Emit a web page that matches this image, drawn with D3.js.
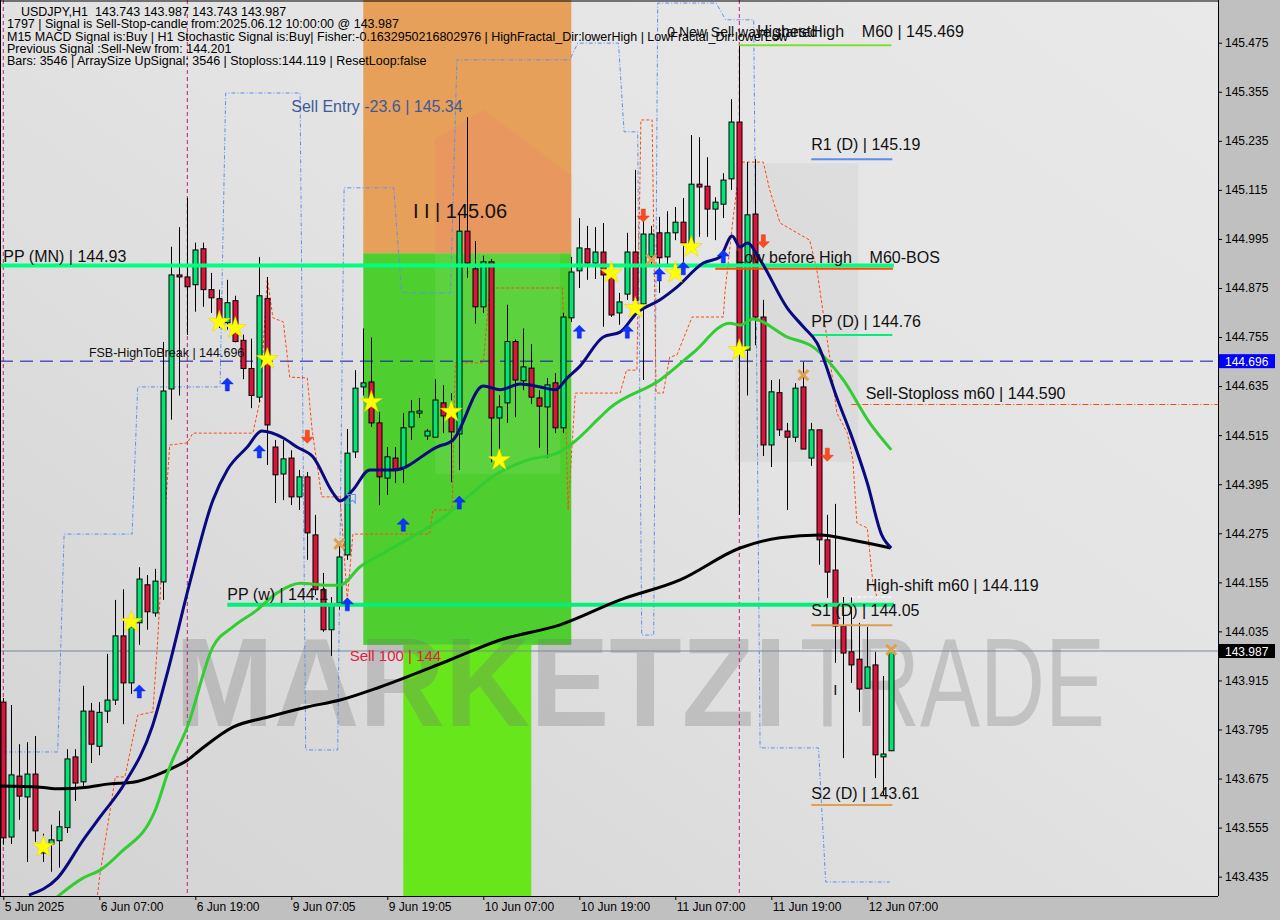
<!DOCTYPE html>
<html><head><meta charset="utf-8">
<script src="https://cdn.jsdelivr.net/npm/d3@7/dist/d3.min.js"></script>
<style>
body{margin:0;background:#c0c0c0;}
svg{display:block;font-family:"Liberation Sans",Arial,sans-serif;}
.pre{white-space:pre;}
</style></head><body>
<svg id="chart" width="1280" height="920"></svg>
<script>
// ---------------- DATA ----------------
const openP=[143.862,143.532,143.681,143.630,143.686,143.493,143.515,143.523,143.555,143.728,
143.667,143.840,143.754,143.840,143.867,144.024,143.909,144.056,144.149,144.080,
144.156,144.628,144.907,144.902,144.883,144.971,144.871,144.849,144.790,144.844,
144.747,144.678,144.608,144.849,144.486,144.420,144.459,144.364,144.413,144.271,
144.137,144.039,144.105,144.222,144.474,144.633,144.645,144.545,144.410,144.459,
144.435,144.535,144.569,144.513,144.510,144.594,144.562,144.518,145.014,144.922,
144.829,144.939,144.557,144.594,144.744,144.648,144.679,144.606,144.584,144.643,
144.533,144.802,144.917,144.971,144.936,144.963,144.907,144.814,144.860,144.963,
144.836,144.951,145.010,144.951,145.010,145.036,144.983,145.129,145.124,145.068,
145.080,145.142,145.281,144.723,145.056,144.804,144.491,144.619,144.525,144.510,
144.633,144.459,144.528,144.259,144.185,144.048,143.985,143.967,143.896,143.953,
143.728,143.743];
const highP=[143.872,143.855,143.759,143.764,143.779,143.540,143.562,143.596,143.747,143.747,
143.902,143.860,143.862,143.980,144.112,144.138,144.080,144.192,144.173,144.188,
144.743,144.976,145.024,145.095,144.986,144.986,144.912,144.871,144.895,144.856,
144.761,144.751,144.951,144.902,144.503,144.503,144.478,144.430,144.425,144.320,
144.178,144.119,144.247,144.530,144.674,144.776,144.754,144.572,144.486,144.486,
144.569,144.601,144.606,144.530,144.652,144.637,144.618,145.058,145.293,144.990,
144.954,144.946,144.613,144.834,144.749,144.776,144.738,144.625,144.655,144.667,
144.814,144.951,145.046,145.027,145.024,145.034,144.926,144.863,145.010,145.164,
145.041,145.027,145.049,145.063,145.073,145.095,145.249,145.244,145.195,145.097,
145.156,145.337,145.469,145.183,145.190,144.846,144.650,144.652,144.545,144.642,
144.694,144.545,144.528,144.320,144.347,144.119,144.119,144.056,144.046,143.985,
143.926,143.987];
const lowP=[143.513,143.515,143.574,143.471,143.520,143.471,143.447,143.457,143.542,143.620,
143.654,143.713,143.732,143.811,143.855,143.808,143.882,144.002,144.039,144.071,
144.112,144.553,144.612,144.760,144.817,144.829,144.814,144.777,144.773,144.742,
144.652,144.581,144.596,144.442,144.349,144.356,144.344,144.332,144.210,144.124,
144.034,143.975,144.088,144.210,144.459,144.612,144.535,144.344,144.369,144.398,
144.398,144.503,144.557,144.503,144.510,144.520,144.400,144.430,144.900,144.788,
144.814,144.449,144.442,144.545,144.559,144.625,144.591,144.484,144.459,144.520,
144.520,144.792,144.875,144.895,144.897,144.780,144.804,144.785,144.846,144.821,
144.650,144.931,144.863,144.931,144.992,144.939,144.973,145.000,145.000,144.992,
145.046,145.115,144.320,144.612,144.735,144.464,144.437,144.513,144.332,144.498,
144.481,144.440,144.198,144.117,143.958,143.725,143.909,143.838,143.896,143.676,
143.635,143.743];
const closeP=[143.530,143.684,143.632,143.686,143.547,143.501,143.525,143.557,143.723,143.664,
143.840,143.759,143.837,143.867,144.024,143.909,144.046,144.163,144.083,144.158,
144.623,144.907,144.902,144.878,144.968,144.871,144.851,144.797,144.839,144.744,
144.678,144.612,144.856,144.540,144.418,144.457,144.364,144.413,144.276,144.137,
144.039,144.100,144.217,144.471,144.630,144.643,144.545,144.413,144.462,144.432,
144.533,144.572,144.574,144.525,144.601,144.562,144.523,145.014,144.936,144.829,
144.939,144.557,144.584,144.744,144.650,144.682,144.608,144.586,144.638,144.533,
144.804,144.914,144.973,144.936,144.963,144.907,144.809,144.841,144.963,144.844,
145.007,145.007,144.949,145.010,145.036,144.985,145.129,145.122,145.068,145.085,
145.139,145.281,144.723,145.054,144.804,144.491,144.621,144.528,144.510,144.630,
144.481,144.528,144.259,144.180,144.048,143.982,143.953,143.894,143.948,143.733,
143.735,143.987];

const timeTickBars=[0,12,24,36,48,60,72,84,96,108];
const timeTickLabels=["5 Jun 2025","6 Jun 07:00","6 Jun 19:00","9 Jun 07:05","9 Jun 19:05","10 Jun 07:00","10 Jun 19:00","11 Jun 07:00","11 Jun 19:00","12 Jun 07:00"];
const priceTicks=[145.475,145.355,145.235,145.115,144.995,144.875,144.755,144.635,144.515,144.395,144.275,144.155,144.035,143.915,143.795,143.675,143.555,143.435];

const maFastBars=[3.2,6.8,10,12.1,15.2,18.6,20.5,23.3,26.2,28,30.5,32.3,35,36.7,38.7,41.2,42.1,43.7,45.8,48.9,54.2,56.2,60,62.1,64.6,67.1,69,70.5,72,75,77.1,79.2,82.1,84.2,87.5,89.6,91.1,92.1,93,94.6,98,100,101.7,104.3,105.9,108,109.8,111];
const maFastVals=[143.390,143.432,143.525,143.581,143.664,143.801,143.933,144.153,144.356,144.430,144.486,144.525,144.508,144.486,144.462,144.374,144.354,144.381,144.430,144.430,144.486,144.503,144.635,144.626,144.640,144.633,144.626,144.655,144.682,144.755,144.767,144.814,144.846,144.877,144.936,144.951,145.002,144.975,144.985,144.944,144.826,144.780,144.741,144.601,144.520,144.398,144.271,144.239];
const maMidBars=[6.7,10,12.1,14.6,19,20.8,23,26.2,28.7,31.7,34.2,37.1,40.5,42.1,44.6,47.1,54.6,62.1,65.5,69.2,71.2,74.6,75.8,82.1,86.2,90.8,92.1,93.7,98,101.2,105,108.3,111];
const maMidVals=[143.385,143.432,143.451,143.493,143.598,143.703,143.801,143.997,144.046,144.087,144.129,144.153,144.148,144.148,144.193,144.222,144.308,144.425,144.454,144.471,144.496,144.559,144.581,144.650,144.716,144.789,144.784,144.799,144.755,144.731,144.650,144.545,144.479];
const maSlowBars=[-0.4,4.6,7,10.5,13.3,16.2,19.2,21.2,23,24.6,28.7,33,38,42.1,47.1,55.8,62.1,69.6,77.1,84.6,92.1,97.1,102.1,105.9,110.9];
const maSlowVals=[143.657,143.654,143.650,143.654,143.662,143.666,143.684,143.701,143.720,143.745,143.801,143.825,143.850,143.867,143.899,143.965,144.014,144.051,144.112,144.161,144.239,144.264,144.271,144.259,144.239];

const blueBars=[-0.4,6.8,7.6,16.1,16.8,27.1,27.8,37.1,37.8,41.8,42.6,48.8,49.8,55.9,56.7,70.8,71.8,76.9,77.6,79.3,79.8,81.3,81.8,89.1,90.3,93.8,94.6,101.9,102.8,110.8];
const blueVals=[143.740,143.740,144.273,144.273,144.633,144.633,145.352,145.352,143.745,143.745,145.120,145.120,144.863,144.863,145.433,145.433,145.474,145.474,145.257,145.257,144.026,144.026,145.572,145.572,145.531,145.531,143.750,143.750,143.422,143.422];
const orangeBars=[11.7,12.1,13.3,14.0,15.2,16.8,18.7,19.3,20.0,20.8,23.0,23.7,31.2,32.1,33.0,33.7,35.0,35.8,38.0,38.6,39.8,42.1,43.0,43.7,53.3,53.7,56.1,56.5,60.0,60.8,69.9,70.6,71.5,77.1,77.9,79.2,79.7,81.1,81.6,82.5,83.3,84.2,86.1,90.0,90.2,91.2,92.1,95.0,95.8,97.1,99.2,100.8,101.7,103.3,104.2,105.5,106.2,106.7,108.0,108.7,109.2];
const orangeVals=[143.378,143.444,143.591,143.679,143.679,143.830,143.838,144.014,144.259,144.491,144.496,144.520,144.520,144.601,144.900,144.802,144.792,144.657,144.655,144.528,144.364,144.364,144.112,144.273,144.273,144.332,144.332,144.692,144.692,144.875,144.875,144.332,144.618,144.618,144.674,144.674,145.286,145.286,144.618,144.618,144.706,144.711,144.804,144.804,144.863,145.041,145.183,145.183,145.115,145.034,145.010,144.992,144.919,144.706,144.569,144.520,144.454,144.300,144.288,144.153,144.119];

const separatorBars=[0,23,92];
const starBars=[5,16,27,29,33,46,56,62,76,79,84,86,92];
const starVals=[143.508,144.058,144.792,144.777,144.701,144.596,144.572,144.454,144.912,144.826,144.912,144.975,144.723];
const upArrowBars=[17,28,32,43,50,57,72,78,82,85,90];
const upArrowVals=[143.904,144.655,144.491,144.117,144.312,144.366,144.784,144.784,144.924,144.939,144.968];
const downArrowBars=[38,80,95,103];
const downArrowVals=[144.510,145.051,144.988,144.466];
const crossBars=[42,81,100,111];
const crossVals=[144.249,144.944,144.662,143.990];

const zoneBars0=[45,45,50], zoneBars1=[71,71,66];
const zoneTop=[145.70,144.960,144.002], zoneBottom=[144.960,144.002,143.30];

const levelLabels=["PP (MN) | 144.93","PP (w) | 144.1","R1 (D) | 145.19","PP (D) | 144.76","S1 (D) | 144.05","S2 (D) | 143.61"];
const levelValues=[144.93,144.1,145.19,144.76,144.05,143.61];
const levelStart=[-0.45,28,101,101,101,101];
const levelEnd=[111.2,111.2,111,111,111,111];

const headerLines=["    USDJPY,H1  143.743 143.987 143.743 143.987",
"1797 | Signal is Sell-Stop-candle from:2025.06.12 10:00:00 @ 143.987",
"M15 MACD Signal is:Buy | H1 Stochastic Signal is:Buy| Fisher:-0.1632950216802976 | HighFractal_Dir:lowerHigh | LowFractal_Dir:lowerLow",
"Previous Signal :Sell-New from: 144.201",
"Bars: 3546 | ArraySize UpSignal: 3546 | Stoploss:144.119 | ResetLoop:false"];

const fsbValue=144.696, lastPrice=143.987, highestHigh=145.469, lowBeforeHigh=144.926, sellStop=144.590, highShift=144.119;
const sellEntryValue=145.34, iiValue=145.06, sell100Value=144;

// ---------------- DRAW ----------------
const PR=1218, PB=896;
const svg=d3.select("#chart");
const x=d3.scaleLinear().domain([-3.3/8,(PR-3.3)/8]).range([0,PR]);
const y=d3.scaleLinear().domain([143.3877,145.5795]).range([PB,0]);

const defs=svg.append("defs");
const g1=defs.append("linearGradient").attr("id","bg").attr("x1","0").attr("y1","1").attr("x2","1").attr("y2","0");
g1.append("stop").attr("offset","0").attr("stop-color","#d3d3d3");
g1.append("stop").attr("offset","0.55").attr("stop-color","#e3e3e3");
g1.append("stop").attr("offset","1").attr("stop-color","#e9e9e9");
defs.append("clipPath").attr("id","plot").append("rect").attr("x",0).attr("y",0).attr("width",PR).attr("height",PB);

svg.append("rect").attr("width",1280).attr("height",920).attr("fill","#c0c0c0");
svg.append("rect").attr("x",0).attr("y",0).attr("width",PR).attr("height",PB).attr("fill","url(#bg)");

const P=svg.append("g").attr("clip-path","url(#plot)");

// logo faint box
P.append("rect").attr("x",x(91.5)).attr("y",y(145.18)).attr("width",123).attr("height",y(144.45)-y(145.18)).attr("fill","rgba(0,0,0,0.04)");

// zones
const zoneColors=["#e6a05a","#4fcf2f","#68e61c"];
zoneColors.forEach((c,i)=>{
  P.append("rect").attr("x",x(zoneBars0[i])).attr("width",x(zoneBars1[i])-x(zoneBars0[i]))
   .attr("y",y(zoneTop[i])).attr("height",y(zoneBottom[i])-y(zoneTop[i])).attr("fill",c);
});
// logo tints inside zones
P.append("path").attr("d",`M${x(54)},${y(145.24)} L${x(60)},${y(145.31)} L${x(71)},${y(145.15)} L${x(71)},${y(144.96)} L${x(54)},${y(144.96)} Z`).attr("fill","rgba(240,120,110,0.22)");
P.append("rect").attr("x",x(54)).attr("width",x(69.6)-x(54)).attr("y",y(144.96)).attr("height",y(144.42)-y(144.96)).attr("fill","rgba(255,255,255,0.08)");

// watermark
P.append("text").attr("x",175).attr("y",726).attr("font-size",126).attr("font-weight","bold")
 .attr("textLength",612).attr("lengthAdjust","spacingAndGlyphs").attr("fill","rgba(110,110,110,0.28)").text("MARKETZI");
P.append("text").attr("x",800).attr("y",726).attr("font-size",126).attr("font-weight","normal")
 .attr("textLength",305).attr("lengthAdjust","spacingAndGlyphs").attr("fill","rgba(110,110,110,0.28)").text("TRADE");

// separators
separatorBars.forEach(b=>{
  P.append("line").attr("x1",x(b)).attr("x2",x(b)).attr("y1",0).attr("y2",PB)
   .attr("stroke","#c0207a").attr("stroke-width",1).attr("stroke-dasharray","4,3");
});

// current price line & FSB
P.append("line").attr("x1",0).attr("x2",PR).attr("y1",y(lastPrice)).attr("y2",y(lastPrice)).attr("stroke","#76879a").attr("stroke-width",1);
P.append("line").attr("x1",0).attr("x2",PR).attr("y1",y(fsbValue)).attr("y2",y(fsbValue)).attr("stroke","#1010b0").attr("stroke-width",1).attr("stroke-dasharray","13,7");

// dashed step lines
const ln=d3.line().x(d=>x(d[0])).y(d=>y(d[1]));
P.append("path").attr("d",ln(blueBars.map((b,i)=>[b,blueVals[i]]))).attr("fill","none")
 .attr("stroke","#5b8ff0").attr("stroke-width",1).attr("stroke-dasharray","4,2,1,2");
P.append("path").attr("d",ln(orangeBars.map((b,i)=>[b,orangeVals[i]]))).attr("fill","none")
 .attr("stroke","#ff4a10").attr("stroke-width",1).attr("stroke-dasharray","3,2");

// candles
const idx=d3.range(openP.length);
const C=P.append("g");
idx.forEach(i=>{
  const cx=Math.round(x(i))+0.5;
  C.append("line").attr("x1",cx).attr("x2",cx).attr("y1",y(highP[i])).attr("y2",y(lowP[i])).attr("stroke","#000").attr("stroke-width",1);
  const top=y(Math.max(openP[i],closeP[i])), bot=y(Math.min(openP[i],closeP[i]));
  C.append("rect").attr("x",cx-2.5).attr("width",5).attr("y",top).attr("height",Math.max(1,bot-top))
   .attr("fill",closeP[i]>=openP[i]?"#00e676":"#dc143c").attr("stroke","#000").attr("stroke-width",1);
});

// level lines
const levelColors=["#00ff80","#00f07a","#5b8def","#00f07a","#dca050","#dca050"];
const levelWidths=[4,4,2,2,2,2];
levelValues.forEach((v,i)=>{
  P.append("line").attr("x1",x(levelStart[i])).attr("x2",x(levelEnd[i])+1).attr("y1",y(v)).attr("y2",y(v))
   .attr("stroke",levelColors[i]).attr("stroke-width",levelWidths[i]);
});
P.append("line").attr("x1",x(89)).attr("x2",x(111.2)).attr("y1",y(lowBeforeHigh)+1.5).attr("y2",y(lowBeforeHigh)+1.5).attr("stroke","#ff4a00").attr("stroke-width",2);
P.append("line").attr("x1",x(92)).attr("x2",x(111)).attr("y1",y(highestHigh)).attr("y2",y(highestHigh)).attr("stroke","#7ce030").attr("stroke-width",2);
P.append("line").attr("x1",x(106)).attr("x2",PR).attr("y1",y(sellStop)).attr("y2",y(sellStop)).attr("stroke","#ff4a10").attr("stroke-width",1).attr("stroke-dasharray","6,2,1,2");
P.append("line").attr("x1",x(106)).attr("x2",x(111)).attr("y1",y(highShift)).attr("y2",y(highShift)).attr("stroke","#ffffff").attr("stroke-width",1).attr("stroke-dasharray","4,2");

// moving averages
const cl=d3.line().x(d=>x(d[0])).y(d=>y(d[1])).curve(d3.curveMonotoneX);
P.append("path").attr("d",cl(maSlowBars.map((b,i)=>[b,maSlowVals[i]]))).attr("fill","none").attr("stroke","#000").attr("stroke-width",3);
P.append("path").attr("d",cl(maMidBars.map((b,i)=>[b,maMidVals[i]]))).attr("fill","none").attr("stroke","#32cd32").attr("stroke-width",3);
P.append("path").attr("d",cl(maFastBars.map((b,i)=>[b,maFastVals[i]]))).attr("fill","none").attr("stroke","#0a0a80").attr("stroke-width",3);

// markers
const star=d3.symbol().type(d3.symbolStar).size(150);
starBars.forEach((b,i)=>{
  P.append("path").attr("d",star()).attr("transform",`translate(${x(b)},${y(starVals[i])})`).attr("fill","#ffff00").attr("stroke","#e8d000").attr("stroke-width",0.5);
});
const upA="M0,0 L6,6 L2,6 L2,13 L-2,13 L-2,6 L-6,6 Z";
upArrowBars.forEach((b,i)=>{
  P.append("path").attr("d",upA).attr("transform",`translate(${x(b)},${y(upArrowVals[i])})`).attr("fill","#1034ff").attr("stroke","#0020d0").attr("stroke-width",0.5);
});
downArrowBars.forEach((b,i)=>{
  P.append("path").attr("d",upA).attr("transform",`translate(${x(b)},${y(downArrowVals[i])+6}) scale(1,-1)`).attr("fill","#ff4a20").attr("stroke","#e03000").attr("stroke-width",0.5);
});
crossBars.forEach((b,i)=>{
  const cx=x(b), cy=y(crossVals[i]);
  P.append("path").attr("d",`M${cx-5},${cy-5}L${cx+5},${cy+5}M${cx+5},${cy-5}L${cx-5},${cy+5}`).attr("stroke","#e0a050").attr("stroke-width",3);
});
P.append("path").attr("d",upA).attr("transform",`translate(${x(44)},${y(144.37)}) rotate(45)`).attr("fill","none").attr("stroke","#5b8ff0").attr("stroke-width",1);

// labels
const T=svg.append("g").attr("fill","#000");
const lab=(t,px,py,size,col)=>T.append("text").attr("class","pre").attr("x",px).attr("y",py).attr("font-size",size).attr("fill",col||"#111").text(t);
const lOff=[-4,-5,-9,-8,-9,-6];
const lX=[0,28,101,101,101,101];
levelLabels.forEach((t,i)=>lab(t,x(lX[i]),y(levelValues[i])+lOff[i],16));
lab("FSB-HighToBreak | 144.696",x(10.7),y(fsbValue)-4,12.5);
lab("Sell Entry -23.6 | 145.34",x(36),y(sellEntryValue)+14,16,"#3c5a99");
lab("I I | 145.06",x(51.2),y(iiValue)+6,20);
lab("Sell 100 | 144",x(43.3),y(sell100Value)+15,15,"#e0203c");
lab("0 New Sell wave started",x(83),y(highestHigh)-8,14);
lab("HighestHigh    M60 | 145.469",x(94.2),y(highestHigh)-8,16);
lab("Low before High    M60-BOS",x(91.5),y(lowBeforeHigh)-4,16);
lab("Sell-Stoploss m60 | 144.590",x(107.8),y(sellStop)-6,16);
lab("High-shift m60 | 144.119",x(107.8),y(highShift)-6,16);
lab("I",x(104)-2,y(143.9)+8,15);

headerLines.forEach((t,i)=>T.append("text").attr("class","pre").attr("x",7).attr("y",16+i*12.3).attr("font-size",12.5).text(t));

// frame
svg.append("line").attr("x1",0).attr("x2",PR).attr("y1",1).attr("y2",1).attr("stroke","#000");
svg.append("line").attr("x1",0.5).attr("x2",0.5).attr("y1",0).attr("y2",PB).attr("stroke","#000");

// right axis
const ra=svg.append("g").attr("transform",`translate(${PR},0)`)
 .call(d3.axisRight(y).tickValues(priceTicks).tickFormat(d3.format(".3f")).tickSize(4).tickPadding(3));
ra.select(".domain").attr("d",`M0.5,0V${PB}`).attr("stroke","#000");
ra.selectAll("text").attr("font-size",12).attr("font-family","Liberation Sans, Arial, sans-serif").attr("fill","#000");
// bottom axis
const ba=svg.append("g").attr("transform",`translate(0,${PB})`)
 .call(d3.axisBottom(x).tickValues(timeTickBars).tickFormat((d,i)=>timeTickLabels[i]).tickSize(4).tickPadding(2));
ba.select(".domain").attr("d",`M0,0.5H${PR}`).attr("stroke","#000");
ba.selectAll("text").attr("text-anchor","start").attr("dx",1).attr("font-size",12).attr("font-family","Liberation Sans, Arial, sans-serif").attr("fill","#000");

// price tags
const tag=(v,bg,fg)=>{
  svg.append("rect").attr("x",PR+1).attr("y",y(v)-7).attr("width",56).attr("height",14).attr("fill",bg);
  svg.append("text").attr("x",PR+7).attr("y",y(v)+4.5).attr("font-size",12).attr("fill",fg).text(v.toFixed(3));
};
tag(fsbValue,"#0000ff","#fff");
tag(lastPrice,"#000","#fff");
</script></body></html>
